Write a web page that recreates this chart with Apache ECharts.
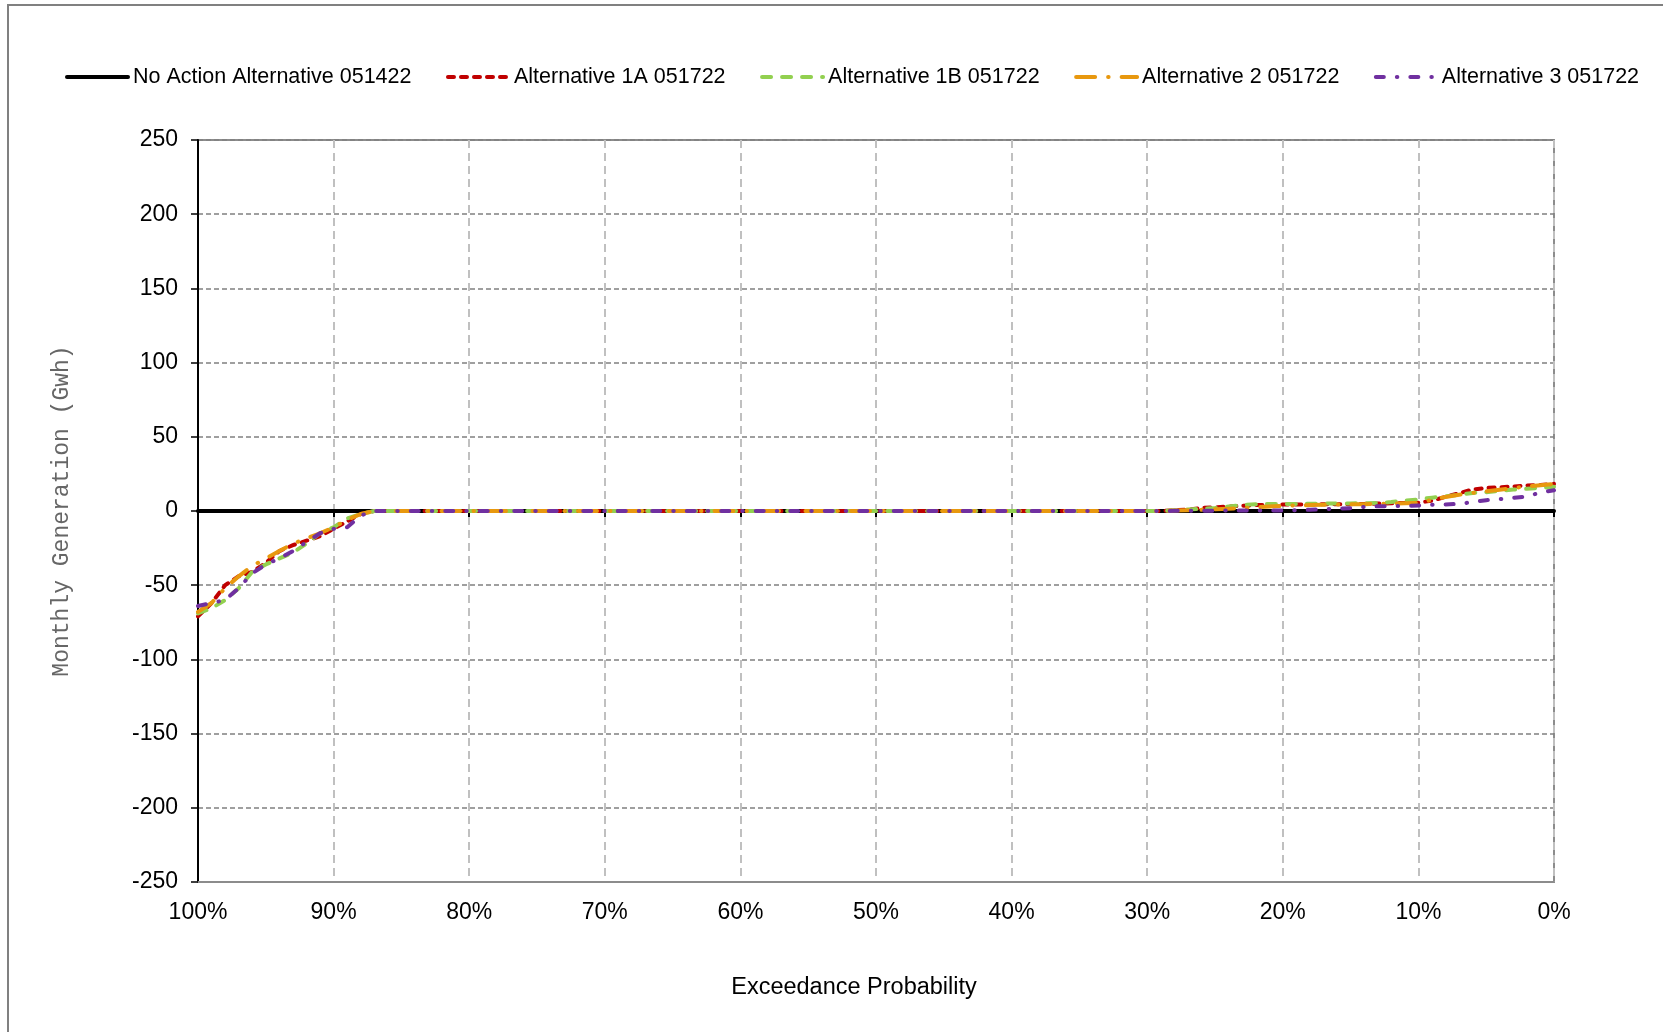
<!DOCTYPE html>
<html>
<head>
<meta charset="utf-8">
<script src="https://cdn.jsdelivr.net/npm/echarts@6/dist/echarts.min.js"></script>
<style>
  html, body { margin: 0; padding: 0; background: #ffffff; }
  #frame { position: absolute; left: 7px; top: 4px; width: 1720px; height: 1100px;
           border-left: 2px solid #808080; border-top: 2px solid #808080; box-sizing: border-box; }
  #chart { position: absolute; left: 0; top: 0; width: 1663px; height: 1032px; }
</style>
</head>
<body>
<div id="frame"></div>
<div id="chart"></div>
<script>
// Exceedance probability (%) shared by all series
const exceedance = [100, 99, 98, 97, 96, 95, 94, 93, 92, 91, 90, 89, 88, 87, 86,
  30, 29, 28, 27, 26, 25, 24, 23, 22, 21, 20, 19, 18, 17, 16, 15, 14, 13, 12, 11, 10,
  9, 8, 7, 6, 5, 4, 3, 2, 1, 0];

const seriesNames = ['No Action Alternative 051422', 'Alternative 1A 051722', 'Alternative 1B 051722',
  'Alternative 2 051722', 'Alternative 3 051722'];

const noAction = [0, 0, 0, 0, 0, 0, 0, 0, 0, 0, 0, 0, 0, 0, 0,
  0, 0, 0, 0, 0, 0, 0, 0, 0, 0, 0, 0, 0, 0, 0, 0, 0, 0, 0, 0, 0,
  0, 0, 0, 0, 0, 0, 0, 0, 0, 0];

const alt1A = [-71, -62, -50, -44, -41, -35, -27, -23, -20, -17, -12, -7, -2, 0, 0,
  0, 0, 0.5, 1, 2, 2.5, 3, 3.5, 4, 4.2, 4.4, 4.4, 4.4, 4.5, 4.5, 4.6, 4.8, 5, 5.2, 5.4, 5.6,
  7, 9.5, 12, 14.5, 15.5, 16, 16.5, 17.2, 17.6, 18.3];

const alt1B = [-69, -65.5, -60, -52, -41, -36, -32, -28, -22, -15, -11, -5, -2, 0, 0,
  0, 0, 0.5, 1, 1.5, 2, 3, 4, 4.5, 4.8, 4.8, 4.8, 4.9, 5, 5, 5.1, 5.2, 5.4, 6, 7, 7.8,
  9, 9.8, 11, 12.2, 12.7, 13.5, 14.5, 15, 15.6, 16.3];

const alt2 = [-68, -62, -52, -44, -37, -32, -27, -22, -18.5, -15, -11, -6, -2, 0, 0,
  0, 0, 0.3, 0.5, 0.8, 1.2, 1.5, 2, 2.5, 3, 3.4, 3.8, 4, 4.2, 4.4, 4.5, 4.6, 4.8, 5, 5.2, 5.5,
  7.5, 9.5, 11, 12.2, 13.2, 14.3, 15.5, 16.5, 17.4, 18.3];

const alt3 = [-64, -62, -60, -52, -42, -36, -32, -27, -21, -15, -12, -11, -3, 0, 0,
  0, 0, 0.1, 0.1, 0.2, 0.2, 0.3, 0.3, 0.3, 0.4, 0.4, 0.6, 0.8, 1.2, 1.6, 1.9, 2.8, 3.2, 3.3, 3.4, 3.7,
  4.2, 4.4, 4.8, 6, 7.3, 8, 8.8, 9.8, 12.5, 14];

const yTicks = { min: -250, max: 250, interval: 50 };
const xTicks = { min: 0, max: 100, interval: 10 };

const valuesList = [noAction, alt1A, alt1B, alt2, alt3];
const colors = ['#000000', '#C00000', '#92D050', '#E8980E', '#7030A0'];
const dashes = ['solid', [6, 7], [9, 11], [19, 13, 0.5, 13], [8, 13, 0.5, 13]];

const chart = echarts.init(document.getElementById('chart'), null, { renderer: 'canvas' });

const series = valuesList.map((vals, i) => ({
  name: seriesNames[i],
  type: 'line',
  xAxisIndex: 0,
  data: exceedance.map((x, j) => [x, vals[j]]),
  showSymbol: false,
  symbol: 'none',
  silent: true,
  animation: false,
  lineStyle: { color: colors[i], width: 4, type: dashes[i], cap: 'round', join: 'round' },
  itemStyle: { color: colors[i] }
}));

const legendData = seriesNames.map((n, i) => ({
  name: n,
  itemStyle: { opacity: 0 },
  lineStyle: { color: colors[i], width: 4, type: dashes[i], cap: 'round', opacity: 1 }
}));

chart.setOption({
  animation: false,
  textStyle: { fontFamily: 'Liberation Sans, Arial, sans-serif' },
  legend: {
    top: 66,
    left: 65,
    padding: 0,
    itemWidth: 61,
    itemHeight: 14,
    itemGap: 34.5,
    itemStyle: { opacity: 0 },
    textStyle: { fontSize: 21.5, color: '#000000', fontFamily: 'Liberation Sans, Arial, sans-serif' },
    data: legendData
  },
  grid: {
    left: 198, right: 109, top: 140, bottom: 150,
    show: true, borderColor: '#8c8c8c', borderWidth: 2, containLabel: false
  },
  xAxis: [{
    type: 'value',
    min: xTicks.min, max: xTicks.max, interval: xTicks.interval,
    inverse: true,
    position: 'bottom',
    axisLine: { onZero: false, show: true, lineStyle: { color: '#8c8c8c', width: 2 } },
    axisTick: { show: false },
    axisLabel: { formatter: v => v + '%', fontSize: 23, color: '#000000', margin: 19 },
    splitLine: { show: true, lineStyle: { color: '#c0c0c0', width: 2, type: [8, 5] } },
    name: 'Exceedance Probability',
    nameLocation: 'middle',
    nameGap: 94,
    nameTextStyle: { fontSize: 23.5, color: '#000000', padding: [0, 44, 0, 0] }
  }, {
    type: 'value',
    min: xTicks.min, max: xTicks.max, interval: xTicks.interval,
    inverse: true,
    position: 'bottom',
    axisLine: { onZero: true, show: true, lineStyle: { color: '#000000', width: 2 } },
    axisTick: { show: true, length: 6, lineStyle: { color: '#000000', width: 2 } },
    axisLabel: { show: false },
    splitLine: { show: false }
  }],
  yAxis: {
    type: 'value',
    min: yTicks.min, max: yTicks.max, interval: yTicks.interval,
    axisLine: { show: true, onZero: false, lineStyle: { color: '#000000', width: 2 } },
    axisTick: { show: true, length: 7, lineStyle: { color: '#000000', width: 1.5 } },
    axisLabel: { fontSize: 23, color: '#000000', margin: 20 },
    splitLine: { show: true, lineStyle: { color: '#808080', width: 1.5, type: [5, 3] } },
    name: 'Monthly Generation (Gwh)',
    nameLocation: 'middle',
    nameGap: 125,
    nameRotate: 90,
    nameTextStyle: { fontSize: 23, color: '#666666', fontFamily: 'Liberation Mono, Courier New, monospace' }
  },
  series: series
});
</script>
</body>
</html>
